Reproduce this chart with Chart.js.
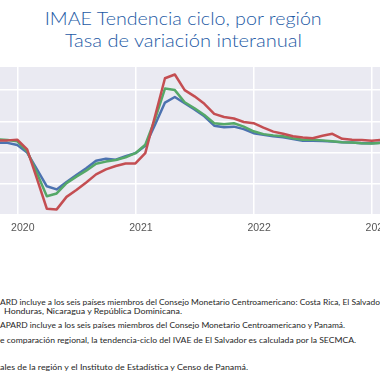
<!DOCTYPE html>
<html><head><meta charset="utf-8">
<script src="https://cdn.jsdelivr.net/npm/chart.js@4/dist/chart.umd.min.js"></script>
<style>
html,body{margin:0;padding:0;background:#fff;width:380px;height:380px;overflow:hidden;position:relative;}
.t{position:absolute;left:0;width:366px;text-align:center;font-family:Lato,sans-serif;font-weight:300;color:#1d5aa5;font-size:17.5px;line-height:1;white-space:nowrap;}
.t span{display:inline-block;transform-origin:50% 50%;}
.f{position:absolute;white-space:nowrap;font-family:Lato,sans-serif;font-size:8.4px;line-height:1;color:#262626;transform-origin:0 0;}
.f .pre{position:absolute;right:100%;top:0;}
#c{position:absolute;left:0;top:67px;}
</style></head>
<body>
<div class="t" style="top:10px"><span id="t1" data-w="277">IMAE Tendencia ciclo, por región</span></div>
<div class="t" style="top:32px"><span id="t2" data-w="237">Tasa de variación interanual</span></div>
<canvas id="c" width="380" height="168"></canvas>
<div class="f" id="f1" style="left:0;top:298px"><span class="pre">1/ C</span>ARD incluye a los seis países miembros del Consejo Monetario Centroamericano: Costa Rica, El Salvador, Guatemala,</div>
<div class="f" id="f2" data-w="178" style="left:4px;top:306.5px">Honduras, Nicaragua y República Dominicana.</div>
<div class="f" id="f3" data-w="345" style="left:0;top:321px"><span class="pre">2/ C</span>APARD incluye a los seis países miembros del Consejo Monetario Centroamericano y Panamá.</div>
<div class="f" id="f4" data-w="356" style="left:0;top:336px"><span class="pre">3/ Para efectos d</span>e comparación regional, la tendencia-ciclo del IVAE de El Salvador es calculada por la SECMCA.</div>
<div class="f" id="f5" data-w="248" style="left:0;top:363px"><span class="pre">Fuente: SECMCA con datos de los Bancos Centr</span>ales de la región y el Instituto de Estadística y Censo de Panamá.</div>
<script>
// Months from 2019-11 to 2023-02
const months = ['2019-11','2019-12',
 '2020-01','2020-02','2020-03','2020-04','2020-05','2020-06','2020-07','2020-08','2020-09','2020-10','2020-11','2020-12',
 '2021-01','2021-02','2021-03','2021-04','2021-05','2021-06','2021-07','2021-08','2021-09','2021-10','2021-11','2021-12',
 '2022-01','2022-02','2022-03','2022-04','2022-05','2022-06','2022-07','2022-08','2022-09','2022-10','2022-11','2022-12',
 '2023-01','2023-02'];
const yearTicks = [0, 12, 24, 36];
const yearLabels = ['2020', '2021', '2022', '2023'];
const card = [1.6, 1.55,
 1.2, 0.0, -2.7, -5.4, -5.9, -4.7, -3.6, -2.5, -1.3, -1.0, -1.15, -0.6,
 -0.1, 1.1, 4.5, 8.0, 8.9, 7.9, 6.9, 5.8, 4.3, 4.05, 4.15, 3.75,
 3.1, 2.85, 2.6, 2.45, 2.15, 1.9, 1.9, 1.85, 1.75, 1.65, 1.6, 1.5,
 1.5, 1.6];
const capard = [2.1, 2.0,
 1.8, 0.2, -3.3, -7.0, -6.55, -4.9, -3.85, -2.9, -1.8, -1.45, -1.2, -0.75,
 -0.1, 1.25, 5.4, 10.25, 10.0, 8.05, 7.1, 6.0, 4.7, 4.55, 4.7, 4.15,
 3.4, 2.95, 2.75, 2.6, 2.3, 2.05, 2.05, 1.95, 1.8, 1.65, 1.6, 1.5,
 1.45, 1.55];
const elSalvador = [1.95, 1.95,
 2.05, 0.5, -4.2, -9.0, -9.1, -7.1, -6.0, -4.8, -3.5, -2.7, -2.15, -1.75,
 -1.75, -0.1, 5.9, 11.9, 12.5, 10.0, 9.0, 7.8, 6.2, 5.7, 5.45, 4.9,
 4.7, 4.0, 3.35, 3.0, 2.6, 2.4, 2.3, 2.7, 3.0, 2.2, 2.05, 2.0,
 1.9, 2.05];

const toPoints = arr => arr.map((v, i) => ({x: i - 2, y: v}));

// fit text widths to the reference
function fit(el, w){ const r = el.getBoundingClientRect().width; el.style.transform = 'scaleX(' + (w / r) + ')'; }
['t1','t2'].forEach(id => { const e = document.getElementById(id); fit(e, +e.dataset.w); });
let s3 = 1;
['f2','f3','f4','f5'].forEach(id => { const e = document.getElementById(id); const r = e.getBoundingClientRect().width; const s = (+e.dataset.w) / r; if (id === 'f3') s3 = s; e.style.transform = 'scaleX(' + s + ')'; });
document.getElementById('f1').style.transform = 'scaleX(' + s3 + ')';

const bg = {id:'bg', beforeDraw(c){ const a = c.chartArea; const x = c.ctx; x.save(); x.fillStyle = '#EAEAF2'; x.fillRect(a.left, a.top, a.right - a.left, a.bottom - a.top); x.restore(); }};

new Chart(document.getElementById('c'), {
  type: 'line',
  data: { datasets: [
    {label: 'El Salvador', data: toPoints(elSalvador), borderColor: '#C44E52'},
    {label: 'CAPARD', data: toPoints(capard), borderColor: '#55A868'},
    {label: 'CARD', data: toPoints(card), borderColor: '#4C72B0'}
  ]},
  options: {
    responsive: false, animation: false, devicePixelRatio: 1,
    layout: {padding: 0},
    elements: {point: {radius: 0}, line: {borderWidth: 2.5, tension: 0, borderJoinStyle: 'round', borderCapStyle: 'round', fill: false}},
    plugins: {legend: {display: false}, tooltip: {enabled: false}, title: {display: false}},
    scales: {
      x: {
        type: 'linear', min: -1.757, max: 36.84,
        grid: {color: '#ffffff', lineWidth: 1.5, drawTicks: false},
        border: {display: false},
        afterBuildTicks: s => { s.ticks = yearTicks.map(v => ({value: v})); },
        ticks: {
          callback: v => yearLabels[yearTicks.indexOf(v)],
          autoSkip: false, maxRotation: 0, padding: 7, labelOffset: 5.5, color: '#555555',
          font: {family: '"Liberation Sans Narrow", "Liberation Sans", sans-serif', size: 10.5}
        },
        afterFit: s => { s.height = 20; s.paddingLeft = 0; s.paddingRight = 0; }
      },
      y: {
        min: -10, max: 13.7,
        grid: {color: '#ffffff', lineWidth: 1.5, drawTicks: false},
        border: {display: false},
        ticks: {display: false, stepSize: 5},
        afterBuildTicks: s => { s.ticks = s.ticks.filter(t => Math.abs(t.value / 5 - Math.round(t.value / 5)) < 1e-9); },
        afterFit: s => { s.width = 0; }
      }
    }
  },
  plugins: [bg]
});
</script>
</body></html>
